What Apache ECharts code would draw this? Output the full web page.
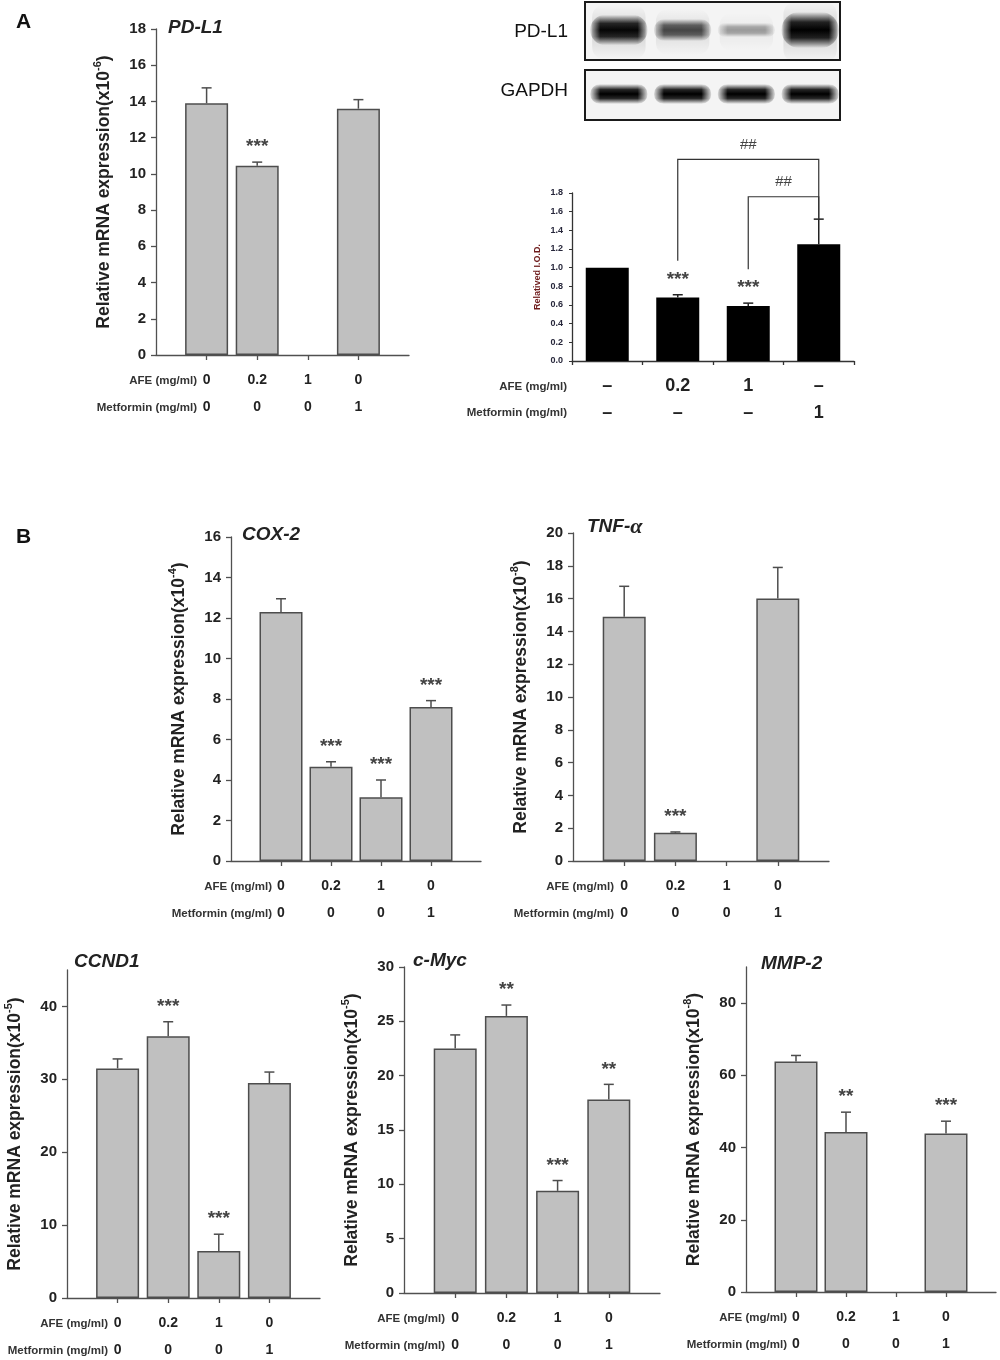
<!DOCTYPE html>
<html>
<head>
<meta charset="utf-8">
<title>AFE / PD-L1</title>
<script src="https://cdn.jsdelivr.net/npm/echarts@6.0.0/dist/echarts.min.js"></script>
<style>
html, body { margin: 0; padding: 0; background: #fff; }
#main { width: 1000px; height: 1360px; }
</style>
</head>
<body>
<div id="main"></div>
<script>
// treatment groups of the qPCR panels
var afeDose = ['0', '0.2', '1', '0'];
var metforminDose = ['0', '0', '0', '1'];

// A - PD-L1 mRNA
var pdl1Mean = [13.9, 10.45, null, 13.6];
var pdl1Err = [0.85, 0.2, null, 0.5];
var pdl1Sig = ['', '***', '', ''];
var pdl1Ticks = [0, 2, 4, 6, 8, 10, 12, 14, 16, 18];

// A - western blot (band darkness per lane)
var blotRows = ['PD-L1', 'GAPDH'];
var blotLanes = ['1', '2', '3', '4'];
var blotPdl1 = [0.85, 0.6, 0.3, 1.0];
var blotGapdh = [0.95, 0.92, 0.92, 0.9];

// A - densitometry
var iodGroups = ['Control', 'AFE 0.2', 'AFE 1', 'Metformin 1'];
var iodAfe = ['–', '0.2', '1', '–'];
var iodMet = ['–', '–', '–', '1'];
var iodMean = [1.0, 0.68, 0.59, 1.25];
var iodErr = [0, 0.03, 0.03, 0.27];
var iodSig = ['', '***', '***', ''];
var iodCompare = [[1, 3, 2.16], [2, 3, 1.76]];
var iodCompareLabel = ['##', '##'];

// B
var cox2Mean = [12.3, 4.65, 3.15, 7.6];
var cox2Err = [0.65, 0.25, 0.85, 0.32];
var cox2Sig = ['', '***', '***', '***'];
var cox2Ticks = [0, 2, 4, 6, 8, 10, 12, 14, 16];

var tnfMean = [14.9, 1.72, null, 16.0];
var tnfErr = [1.85, 0.05, null, 1.9];
var tnfSig = ['', '***', '', ''];
var tnfTicks = [0, 2, 4, 6, 8, 10, 12, 14, 16, 18, 20];

var ccnd1Mean = [31.5, 35.9, 6.45, 29.5];
var ccnd1Err = [1.3, 2.0, 2.3, 1.5];
var ccnd1Sig = ['', '***', '***', ''];
var ccnd1Ticks = [0, 10, 20, 30, 40];

var mycMean = [22.5, 25.5, 9.4, 17.8];
var mycErr = [1.25, 1.0, 0.95, 1.4];
var mycSig = ['', '**', '***', '**'];
var mycTicks = [0, 5, 10, 15, 20, 25, 30];

var mmp2Mean = [63.8, 44.3, null, 43.9];
var mmp2Err = [1.7, 5.5, null, 3.4];
var mmp2Sig = ['', '**', '', '***'];
var mmp2Ticks = [0, 20, 40, 60, 80];

var FONT = '"Liberation Sans", Arial, Helvetica, sans-serif';
var AXIS = '#505050';
var BLOT_BG = [244, 244, 244];
var groupPos = afeDose.map(function (d, i) { return i + 1; });

var option = {
    backgroundColor: '#fff',
    animation: false,
    title: [],
    grid: [],
    xAxis: [],
    yAxis: [],
    series: [],
    graphic: { elements: [] }
};

function addText(x, y, str, font, color, align) {
    option.graphic.elements.push({
        type: 'text', x: x, y: y, silent: true,
        style: { text: str, font: font, fill: color || '#222', align: align || 'left', verticalAlign: 'middle' }
    });
}

// error whiskers (upper only) + significance marks
function errorBars(gi, mean, err, sig, xOf, stroke) {
    var data = [];
    mean.forEach(function (v, i) {
        if (v != null) data.push([xOf(i), v, err[i] || 0, i]);
    });
    return {
        type: 'custom', xAxisIndex: gi, yAxisIndex: gi, silent: true, z: 5,
        data: data,
        renderItem: function (params, api) {
            var x = api.value(0), v = api.value(1), e = api.value(2);
            var base = api.coord([x, v]);
            var top = api.coord([x, v + e]);
            var kids = [];
            if (e > 0) {
                kids.push({ type: 'line', shape: { x1: base[0], y1: base[1], x2: top[0], y2: top[1] }, style: { stroke: stroke, lineWidth: 1.5 } });
                kids.push({ type: 'line', shape: { x1: top[0] - 5, y1: top[1], x2: top[0] + 5, y2: top[1] }, style: { stroke: stroke, lineWidth: 1.5 } });
            }
            var s = sig[api.value(3)];
            if (s) {
                kids.push({ type: 'text', x: top[0], y: top[1] - 15, style: { text: s, fill: '#444', font: 'bold 19px ' + FONT, align: 'center', verticalAlign: 'middle' } });
            }
            return { type: 'group', children: kids };
        }
    };
}

function addMrnaPanel(p) {
    var gi = option.grid.length;
    option.grid.push({ left: p.left, top: p.top, width: p.width, height: p.height });
    option.title.push({
        text: p.title, left: p.titleLeft, top: p.titleTop, padding: 0,
        textStyle: {
            fontFamily: FONT, fontSize: 19, fontWeight: 'bold', fontStyle: 'italic', color: '#222',
            rich: {
                n: { fontFamily: FONT, fontSize: 19, fontWeight: 'bold', fontStyle: 'italic', color: '#222' },
                g: { fontFamily: '"Liberation Serif", "DejaVu Serif", serif', fontSize: 22, fontStyle: 'italic', color: '#222' }
            }
        }
    });
    option.xAxis.push({
        gridIndex: gi, type: 'value', min: 0, max: 5,
        axisLine: { show: true, onZero: false, lineStyle: { color: AXIS, width: 1.3 } },
        axisTick: { show: true, length: 5, customValues: groupPos, lineStyle: { color: AXIS, width: 1.3 } },
        axisLabel: {
            customValues: groupPos, margin: 12,
            formatter: function (v) {
                var i = Math.round(v) - 1;
                return '{a|' + afeDose[i] + '}\n{a|' + metforminDose[i] + '}';
            },
            rich: { a: { fontFamily: FONT, fontWeight: 'bold', fontSize: 14, lineHeight: 27, color: '#222' } }
        },
        splitLine: { show: false }
    });
    option.yAxis.push({
        gridIndex: gi, type: 'value', min: 0, max: p.max,
        axisLine: { show: true, lineStyle: { color: AXIS, width: 1.3 } },
        axisTick: { show: true, length: 5, customValues: p.ticks, lineStyle: { color: AXIS, width: 1.3 } },
        axisLabel: { customValues: p.ticks, margin: 10, fontFamily: FONT, fontWeight: 'bold', fontSize: 15, color: '#222' },
        splitLine: { show: false },
        name: 'Relative mRNA expression(x10{s|' + p.exp + '})',
        nameLocation: 'middle', nameGap: 40,
        nameTextStyle: {
            fontFamily: FONT, fontWeight: 'bold', fontSize: 17.5, color: '#222', lineHeight: 24,
            rich: { s: { fontFamily: FONT, fontWeight: 'bold', fontSize: 11, lineHeight: 11, verticalAlign: 'top', color: '#222' } }
        }
    });
    var bars = [];
    p.mean.forEach(function (v, i) { if (v != null) bars.push([i + 1, v]); });
    option.series.push({
        type: 'bar', xAxisIndex: gi, yAxisIndex: gi, silent: true, barWidth: 43,
        data: bars,
        itemStyle: { color: '#c0c0c0', borderColor: '#4d4d4d', borderWidth: 1.5 }
    });
    option.series.push(errorBars(gi, p.mean, p.err, p.sig, function (i) { return i + 1; }, '#4d4d4d'));

    var bottom = p.top + p.height;
    addText(p.left + 41, bottom + 26, 'AFE (mg/ml)', 'bold 11.5px ' + FONT, '#333', 'right');
    addText(p.left + 41, bottom + 53, 'Metformin (mg/ml)', 'bold 11.5px ' + FONT, '#333', 'right');
}

addMrnaPanel({ title: 'PD-L1', mean: pdl1Mean, err: pdl1Err, sig: pdl1Sig, ticks: pdl1Ticks, max: 18, exp: '-6',
    left: 156, top: 29, width: 253, height: 326, titleLeft: 168, titleTop: 18 });
addMrnaPanel({ title: 'COX-2', mean: cox2Mean, err: cox2Err, sig: cox2Sig, ticks: cox2Ticks, max: 16, exp: '-4',
    left: 231, top: 537, width: 250, height: 324, titleLeft: 242, titleTop: 525 });
addMrnaPanel({ title: '{n|TNF-}{g|α}', mean: tnfMean, err: tnfErr, sig: tnfSig, ticks: tnfTicks, max: 20, exp: '-8',
    left: 573, top: 533, width: 256, height: 328, titleLeft: 587, titleTop: 516 });
addMrnaPanel({ title: 'CCND1', mean: ccnd1Mean, err: ccnd1Err, sig: ccnd1Sig, ticks: ccnd1Ticks, max: 45, exp: '-5',
    left: 67, top: 970, width: 253, height: 328, titleLeft: 74, titleTop: 952 });
addMrnaPanel({ title: 'c-Myc', mean: mycMean, err: mycErr, sig: mycSig, ticks: mycTicks, max: 30, exp: '-5',
    left: 404, top: 967, width: 256, height: 326, titleLeft: 413, titleTop: 951 });
addMrnaPanel({ title: 'MMP-2', mean: mmp2Mean, err: mmp2Err, sig: mmp2Sig, ticks: mmp2Ticks, max: 90, exp: '-8',
    left: 746, top: 967, width: 250, height: 325, titleLeft: 761, titleTop: 954 });

// ---- western blot ----
(function () {
    var gi = option.grid.length;
    option.grid.push({ left: 585, top: 2, width: 255, height: 118 });
    option.xAxis.push({ gridIndex: gi, type: 'category', data: blotLanes, show: false });
    option.yAxis.push({
        gridIndex: gi, type: 'category', data: blotRows, inverse: true,
        axisLine: { show: false }, axisTick: { show: false }, splitLine: { show: false },
        axisLabel: { margin: 17, fontFamily: FONT, fontSize: 19, color: '#111' }
    });

    function k(a) { return 'rgba(0,0,0,' + a + ')'; }
    function bg(a) { return 'rgba(' + BLOT_BG.join(',') + ',' + a + ')'; }

    // one band: soft top/bottom from a vertical gradient, soft ends from background fades
    function band(cx, cy, w, h, a, kids) {
        kids.push({
            type: 'rect', shape: { x: cx - w / 2, y: cy - h / 2, width: w, height: h, r: h / 2 },
            style: { fill: new echarts.graphic.LinearGradient(0, 0, 0, 1, [
                { offset: 0, color: k(0) }, { offset: 0.28, color: k(a * 0.85) },
                { offset: 0.5, color: k(a) }, { offset: 0.72, color: k(a * 0.85) }, { offset: 1, color: k(0) }
            ]) }
        });
        var f = 11;
        kids.push({
            type: 'rect', shape: { x: cx - w / 2 - 1, y: cy - h / 2, width: f, height: h },
            style: { fill: new echarts.graphic.LinearGradient(0, 0, 1, 0, [{ offset: 0, color: bg(1) }, { offset: 1, color: bg(0) }]) }
        });
        kids.push({
            type: 'rect', shape: { x: cx + w / 2 + 1 - f, y: cy - h / 2, width: f, height: h },
            style: { fill: new echarts.graphic.LinearGradient(0, 0, 1, 0, [{ offset: 0, color: bg(0) }, { offset: 1, color: bg(1) }]) }
        });
    }

    option.series.push({
        type: 'custom', xAxisIndex: gi, yAxisIndex: gi, silent: true,
        data: blotRows.map(function (r, i) { return [0, i]; }),
        renderItem: function (params, api) {
            var row = api.value(1);
            var c = api.coord([0, row]);
            var size = api.size([1, 1]);
            var rect = params.coordSys;
            var bandTop = c[1] - size[1] / 2;
            var inset = row === 0 ? [0, 1] : [9, 0];
            var boxY = bandTop + inset[0];
            var boxH = size[1] - inset[0] - inset[1];
            var kids = [{ type: 'rect', shape: { x: rect.x, y: boxY, width: rect.width, height: boxH }, style: { fill: bg(1) } }];
            var bands = row === 0 ? blotPdl1 : blotGapdh;
            bands.forEach(function (b, j) {
                var cx = api.coord([j, row])[0] + 2;
                var cy = boxY + boxH / 2 - 1;
                var w = size[0] * 0.9;
                var a = Math.min(1, b * 1.15);
                if (row === 0) {
                    var h = 10 + 26 * Math.pow(b, 1.5);
                    band(cx, cy, w, h, a, kids);
                    // smear around the band, drawn after the end fades
                    kids.push({
                        type: 'rect', shape: { x: cx - w / 2 + 2, y: cy - h / 2 - 10, width: w - 4, height: h + 24, r: 12 },
                        style: { fill: new echarts.graphic.LinearGradient(0, 0, 0, 1, [
                            { offset: 0, color: k(0) }, { offset: 0.5, color: k(0.14 * a) }, { offset: 1, color: k(0) }
                        ]) }
                    });
                } else {
                    band(cx, cy, w, 20, a, kids);
                }
            });
            kids.push({ type: 'rect', shape: { x: rect.x, y: boxY, width: rect.width, height: boxH }, style: { fill: 'none', stroke: '#1a1a1a', lineWidth: 2 } });
            return { type: 'group', children: kids };
        }
    });
})();

// ---- densitometry (relative I.O.D.) ----
(function () {
    var gi = option.grid.length;
    option.grid.push({ left: 572, top: 193, width: 282, height: 168 });
    option.xAxis.push({
        gridIndex: gi, type: 'category', data: iodGroups,
        axisLine: { show: true, lineStyle: { color: '#333', width: 1.3 } },
        axisTick: { show: true, length: 4, lineStyle: { color: '#333', width: 1.3 } },
        axisLabel: {
            margin: 12,
            formatter: function (v, i) { return '{a|' + iodAfe[i] + '}\n{a|' + iodMet[i] + '}'; },
            rich: { a: { fontFamily: FONT, fontWeight: 'bold', fontSize: 18, lineHeight: 27, color: '#222' } }
        }
    });
    option.yAxis.push({
        gridIndex: gi, type: 'value', min: 0, max: 1.8, interval: 0.2,
        axisLine: { show: true, lineStyle: { color: '#333', width: 1.3 } },
        axisTick: { show: true, length: 3, lineStyle: { color: '#333' } },
        axisLabel: { margin: 9, fontFamily: FONT, fontWeight: 'bold', fontSize: 9, color: '#26263a',
            formatter: function (v) { return v.toFixed(1); } },
        splitLine: { show: false },
        name: 'Relatived I.O.D.', nameLocation: 'middle', nameGap: 30,
        nameTextStyle: { fontFamily: FONT, fontWeight: 'bold', fontSize: 9, color: '#6e1b1b' }
    });
    option.series.push({
        type: 'bar', xAxisIndex: gi, yAxisIndex: gi, silent: true, barWidth: 43,
        data: iodMean, itemStyle: { color: '#000' }
    });
    option.series.push(errorBars(gi, iodMean, iodErr, iodSig, function (i) { return i; }, '#222'));
    option.series.push({
        type: 'custom', xAxisIndex: gi, yAxisIndex: gi, silent: true, z: 6,
        data: iodCompare.map(function (c, n) { return [c[0], c[2], c[1], n]; }),
        renderItem: function (params, api) {
            var from = api.value(0), level = api.value(1), to = api.value(2);
            var f = api.coord([from, iodMean[from] + iodErr[from]]);
            var t = api.coord([to, iodMean[to] + iodErr[to]]);
            var ly = api.coord([from, level])[1];
            return {
                type: 'group',
                children: [
                    { type: 'polyline', shape: { points: [[f[0], f[1] - 34], [f[0], ly], [t[0], ly], [t[0], t[1]]] },
                      style: { stroke: '#333', lineWidth: 1.2, fill: 'none' } },
                    { type: 'text', x: (f[0] + t[0]) / 2, y: ly - 15,
                      style: { text: iodCompareLabel[api.value(3)], fill: '#444', font: '15px ' + FONT, align: 'center', verticalAlign: 'middle' } }
                ]
            };
        }
    });
    addText(567, 387, 'AFE (mg/ml)', 'bold 11.5px ' + FONT, '#333', 'right');
    addText(567, 413, 'Metformin (mg/ml)', 'bold 11.5px ' + FONT, '#333', 'right');
})();

addText(16, 22, 'A', 'bold 21px ' + FONT, '#111');
addText(16, 537, 'B', 'bold 21px ' + FONT, '#111');

var myChart = echarts.init(document.getElementById('main'));
myChart.setOption(option);
</script>
</body>
</html>
